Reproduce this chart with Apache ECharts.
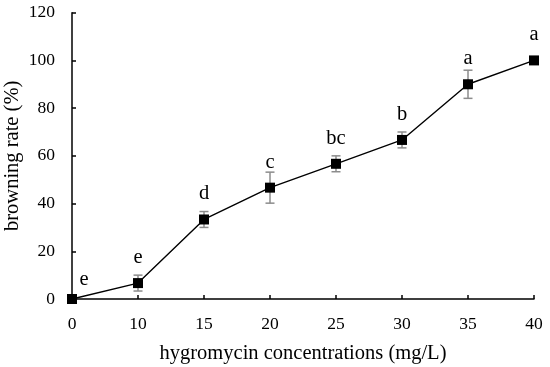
<!DOCTYPE html>
<html><head><meta charset="utf-8">
<script src="https://cdn.jsdelivr.net/npm/echarts@6/dist/echarts.min.js"></script>
<style>html,body{margin:0;padding:0;background:#fff}#c{width:550px;height:367px}</style>
</head><body><div id="c"></div>
<script>
var categories = ['0', '10', '15', '20', '25', '30', '35', '40'];
var browning = [0, 6.67, 33.33, 46.67, 56.67, 66.67, 90, 100];
var errors = [0, 3.33, 3.33, 6.5, 3.33, 3.33, 5.9, 0];
var letters = ['e', 'e', 'd', 'c', 'bc', 'b', 'a', 'a'];
var yTicks = { min: 0, max: 120, interval: 20 };

var font = 'Liberation Serif';
var chart = echarts.init(document.getElementById('c'));
var errData = browning.map(function (v, i) { return [i, v, errors[i]]; });

chart.setOption({
  animation: false,
  grid: { left: 72, right: 16, top: 12.7, bottom: 68, outerBoundsMode: 'none', containLabel: false },
  xAxis: {
    type: 'category', data: categories, boundaryGap: false,
    name: 'hygromycin concentrations (mg/L)', nameLocation: 'middle', nameGap: 44,
    nameTextStyle: { fontFamily: font, fontSize: 20.5, color: '#000' },
    axisLine: { lineStyle: { color: '#000', width: 1.5 } },
    axisTick: { inside: true, length: 4, lineStyle: { color: '#000', width: 1.5 } },
    axisLabel: { fontFamily: font, fontSize: 17.5, color: '#000', margin: 16 },
    splitLine: { show: false }
  },
  yAxis: {
    type: 'value', min: yTicks.min, max: yTicks.max, interval: yTicks.interval,
    name: 'browning rate (%)', nameLocation: 'middle', nameGap: 49, nameMoveOverlap: false,
    nameTextStyle: { fontFamily: font, fontSize: 20.5, color: '#000' },
    axisLine: { show: true, lineStyle: { color: '#000', width: 1.5 } },
    axisTick: { show: true, inside: true, length: 4, lineStyle: { color: '#000', width: 1.5 } },
    axisLabel: { fontFamily: font, fontSize: 17.5, color: '#000', margin: 17 },
    splitLine: { show: false }
  },
  series: [
    {
      type: 'custom', z: 1,
      renderItem: function (params, api) {
        var i = api.value(0), v = api.value(1), e = api.value(2);
        var mid = api.coord([i, v]);
        var top = api.coord([i, v + e]);
        var bot = api.coord([i, v - e]);
        var children = [];
        var lineStyle = { stroke: '#8c8c8c', lineWidth: 1.5 };
        if (e > 0) {
          children.push({ type: 'line', shape: { x1: top[0], y1: top[1], x2: bot[0], y2: bot[1] }, style: lineStyle });
          children.push({ type: 'line', shape: { x1: top[0] - 4.5, y1: top[1], x2: top[0] + 4.5, y2: top[1] }, style: lineStyle });
          children.push({ type: 'line', shape: { x1: bot[0] - 4.5, y1: bot[1], x2: bot[0] + 4.5, y2: bot[1] }, style: lineStyle });
        }
        var tx = mid[0], ty = mid[1] - 25.5;
        if (params.dataIndex === 0) { tx += 12; ty = mid[1] - 19.8; }
        children.push({ type: 'text', style: { text: letters[params.dataIndex], x: tx, y: ty, align: 'center', verticalAlign: 'middle', fontFamily: font, fontSize: 20.5, fill: '#000' } });
        return { type: 'group', children: children };
      },
      data: errData
    },
    {
      type: 'line', z: 3, data: browning,
      symbol: 'rect', symbolSize: 10, showAllSymbol: true,
      lineStyle: { color: '#000', width: 1.4 },
      itemStyle: { color: '#000' }
    }
  ]
});
</script></body></html>
